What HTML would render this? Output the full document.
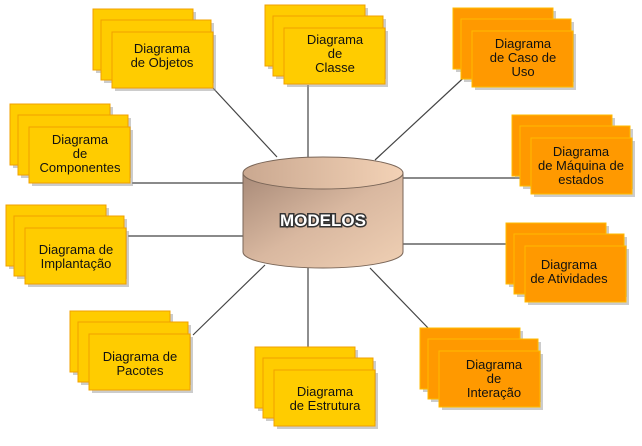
<!DOCTYPE html>
<html><head><meta charset="utf-8"><style>
body{margin:0;background:#fff;}
svg text{font-family:"Liberation Sans",Arial,sans-serif;font-size:13px;fill:#111;text-anchor:middle;}
</style></head><body>
<svg width="642" height="441" viewBox="0 0 642 441" xmlns="http://www.w3.org/2000/svg">
<defs>
<linearGradient id="cyl" x1="0" y1="0" x2="1" y2="1">
<stop offset="0" stop-color="#a88a78"/><stop offset="0.5" stop-color="#d9b8a0"/><stop offset="1" stop-color="#f0d0b4"/>
</linearGradient>
<linearGradient id="top" x1="0" y1="0" x2="1" y2="0">
<stop offset="0" stop-color="#caa890"/><stop offset="1" stop-color="#f3d2b6"/>
</linearGradient>
<g id="sy">
<rect x="3" y="3" width="100" height="61" fill="#999" opacity="0.5"/>
<rect x="0" y="0" width="100" height="61" fill="#ffcc00" stroke="#f0a000"/>
<rect x="11" y="14" width="110" height="60" fill="#999" opacity="0.5"/>
<rect x="8" y="11" width="110" height="60" fill="#ffcc00" stroke="#f0a000"/>
<rect x="22" y="26" width="101" height="56" fill="#999" opacity="0.5"/>
<rect x="19" y="23" width="101" height="56" fill="#ffcc00" stroke="#f0a000"/>
</g>
<g id="so">
<rect x="3" y="3" width="100" height="61" fill="#999" opacity="0.5"/>
<rect x="0" y="0" width="100" height="61" fill="#ff9900" stroke="#ffbb00"/>
<rect x="11" y="14" width="110" height="60" fill="#999" opacity="0.5"/>
<rect x="8" y="11" width="110" height="60" fill="#ff9900" stroke="#ffbb00"/>
<rect x="22" y="26" width="101" height="56" fill="#999" opacity="0.5"/>
<rect x="19" y="23" width="101" height="56" fill="#ff9900" stroke="#ffbb00"/>
</g>
</defs>
<g stroke="#444" stroke-width="1.2">
<line x1="213" y1="88" x2="277" y2="157"/>
<line x1="132" y1="183" x2="243" y2="183"/>
<line x1="308" y1="85" x2="308" y2="157"/>
<line x1="472" y1="70" x2="375" y2="160"/>
<line x1="403" y1="178" x2="530" y2="178"/>
<line x1="403" y1="244" x2="526" y2="244"/>
<line x1="128" y1="236" x2="243" y2="236"/>
<line x1="193" y1="335" x2="265" y2="265"/>
<line x1="308" y1="268" x2="308" y2="370"/>
<line x1="370" y1="268" x2="430" y2="330"/>
</g>
<path d="M243 173 L243 252 A80 16 0 0 0 403 252 L403 173 Z" fill="url(#cyl)" stroke="#7a6658"/>
<ellipse cx="323" cy="173" rx="80" ry="16" fill="url(#top)" stroke="#7a6658"/>
<text x="323" y="226" style="font-size:17px;font-weight:bold;fill:#fff;stroke:#333;stroke-width:3;paint-order:stroke">MODELOS</text>

<use href="#sy" x="93" y="9"/>
<use href="#sy" x="10" y="104"/>
<use href="#sy" x="265" y="5"/>
<use href="#sy" x="6" y="205"/>
<use href="#sy" x="70" y="311"/>
<use href="#sy" x="255" y="347"/>
<use href="#so" x="453" y="8"/>
<use href="#so" x="512" y="115"/>
<use href="#so" x="506" y="223"/>
<use href="#so" x="420" y="328"/>

<text x="162" y="53">Diagrama</text><text x="162" y="67">de Objetos</text>
<text x="80" y="144">Diagrama</text><text x="80" y="158">de</text><text x="80" y="172">Componentes</text>
<text x="335" y="44">Diagrama</text><text x="335" y="58">de</text><text x="335" y="72">Classe</text>
<text x="76" y="254">Diagrama de</text><text x="76" y="268">Implantação</text>
<text x="140" y="361">Diagrama de</text><text x="140" y="375">Pacotes</text>
<text x="325" y="396">Diagrama</text><text x="325" y="410">de Estrutura</text>
<text x="523" y="48">Diagrama</text><text x="523" y="62">de Caso de</text><text x="523" y="76">Uso</text>
<text x="581" y="156">Diagrama</text><text x="581" y="170">de Máquina de</text><text x="581" y="184">estados</text>
<text x="569" y="269">Diagrama</text><text x="569" y="283">de Atividades</text>
<text x="494" y="369">Diagrama</text><text x="494" y="383">de</text><text x="494" y="397">Interação</text>
</svg>
</body></html>
